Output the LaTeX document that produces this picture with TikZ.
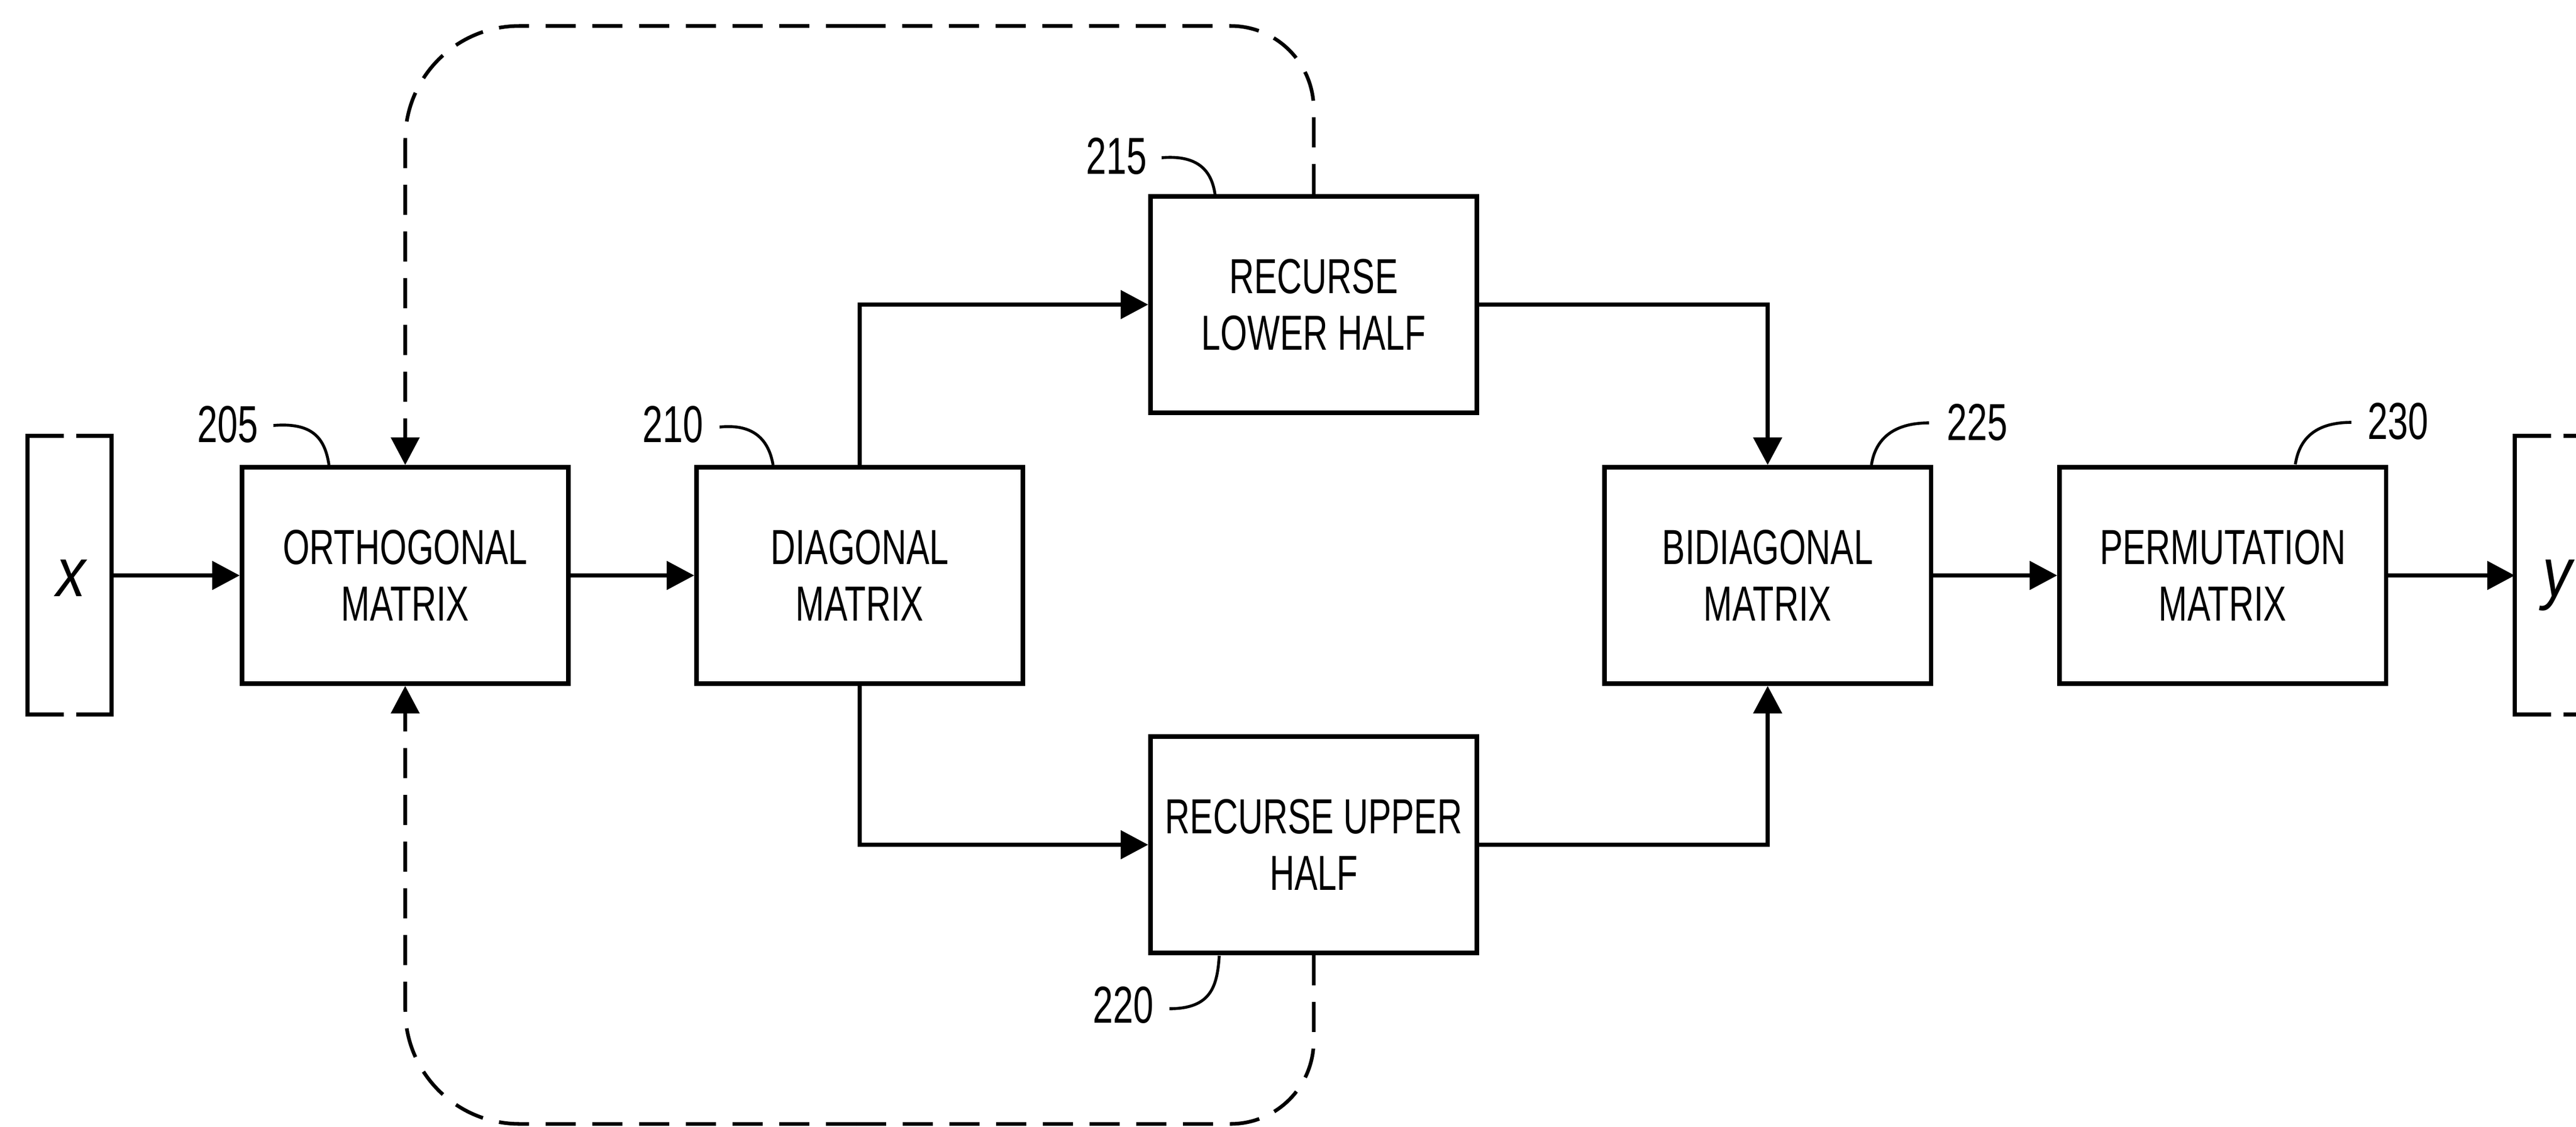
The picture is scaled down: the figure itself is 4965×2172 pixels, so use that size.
\documentclass[tikz,border=0pt]{standalone}
\usepackage{fontspec}
\setmainfont{Liberation Sans}[FakeStretch=0.7]
\newfontfamily\varfont{Liberation Sans}[FakeStretch=0.85]
\usetikzlibrary{arrows.meta}
\begin{document}
\begin{tikzpicture}[x=0.01cm,y=-0.01cm,
  blk/.style={draw, line width=2.4pt, minimum width=6.29cm, minimum height=4.17cm, align=center, inner sep=0pt, font=\fontsize{27pt}{31pt}\selectfont},
  tip/.style={-{Triangle[length=0.53cm,width=0.54cm]}},
  conn/.style={line width=2.4pt, tip},
  dsh/.style={line width=2pt, dash pattern=on 0.58cm off 0.32cm},
  lead/.style={line width=1.6pt},
  lbl/.style={inner sep=0pt, font=\fontsize{28.5pt}{31pt}\selectfont},
  brk/.style={line width=2.4pt},
  var/.style={inner sep=0pt, font=\varfont\itshape\fontsize{38pt}{40pt}\selectfont, anchor=base}]
\useasboundingbox (0,0) rectangle (4965,2172);
\clip (0,0) rectangle (4965,2172);

% blocks
\node[blk] (ortho)  at (781,1109)  {ORTHOGONAL\\MATRIX};
\node[blk] (diag)   at (1657,1109) {DIAGONAL\\MATRIX};
\node[blk] (lower)  at (2532,587)  {RECURSE\\LOWER HALF};
\node[blk] (upper)  at (2532,1628) {RECURSE UPPER\\HALF};
\node[blk] (bidiag) at (3407,1109) {BIDIAGONAL\\MATRIX};
\node[blk] (perm)   at (4284,1109) {PERMUTATION\\MATRIX};

% input / output vectors
\draw[brk] (123,840) -- (53,840) -- (53,1377) -- (123,1377);
\draw[brk] (147,840) -- (215,840) -- (215,1377) -- (147,1377);
\coordinate (xin) at (215,1109);
\node[var] (xv) at (137,1149) {x};
\draw[brk] (4917,840) -- (4847,840) -- (4847,1377) -- (4917,1377);
\draw[brk] (4941,840) -- (5009,840) -- (5009,1377) -- (4941,1377);
\coordinate (yout) at (4847,1109);
\node[var] (yv) at (4929,1149) {y};

% solid connectors
\draw[conn] (xin) -- (ortho.west);
\draw[conn] (ortho.east) -- (diag.west);
\draw[conn] (diag.north) |- (lower.west);
\draw[conn] (diag.south) |- (upper.west);
\draw[conn] (lower.east) -| (bidiag.north);
\draw[conn] (upper.east) -| (bidiag.south);
\draw[conn] (bidiag.east) -- (perm.west);
\draw[conn] (perm.east) -- (yout);

% dashed recursion loops
\coordinate (tr) at (2532,50);
\coordinate (tm) at (1650,50);
\coordinate (tl) at (781,50);
\coordinate (br) at (2532,2166);
\coordinate (bm) at (1650,2166);
\coordinate (bl) at (781,2166);
\draw[dsh, rounded corners=1.6cm] (lower.north) -- (tr) -- (tm);
\draw[dsh, rounded corners=2.2cm, tip] (tm) -- (tl) -- (ortho.north);
\draw[dsh, rounded corners=1.6cm] (upper.south) -- (br) -- (bm);
\draw[dsh, rounded corners=2.2cm, tip] (bm) -- (bl) -- (ortho.south);

% reference labels
\node[lbl] (l205) at (439,818)   {205};
\node[lbl] (l210) at (1297,818)  {210};
\node[lbl] (l215) at (2152,301)  {215};
\node[lbl] (l220) at (2165,1937) {220};
\node[lbl] (l225) at (3811,814)  {225};
\node[lbl] (l230) at (4622,812)  {230};

\coordinate (e205) at (634,896);
\coordinate (e210) at (1490,896);
\coordinate (e215) at (2342,376);
\coordinate (e220) at (2350,1842);
\coordinate (e225) at (3607,896);
\coordinate (e230) at (4424,895);

\draw[lead] (527,820) .. controls (600,814) and (626,842) .. (e205);
\draw[lead] (1387,823) .. controls (1455,816) and (1482,850) .. (e210);
\draw[lead] (2239,304) .. controls (2310,298) and (2336,330) .. (e215);
\draw[lead] (2254,1944) .. controls (2335,1944) and (2346,1900) .. (e220);
\draw[lead] (3718,815) .. controls (3645,815) and (3614,850) .. (e225);
\draw[lead] (4532,814) .. controls (4458,814) and (4431,850) .. (e230);
\end{tikzpicture}
\end{document}
